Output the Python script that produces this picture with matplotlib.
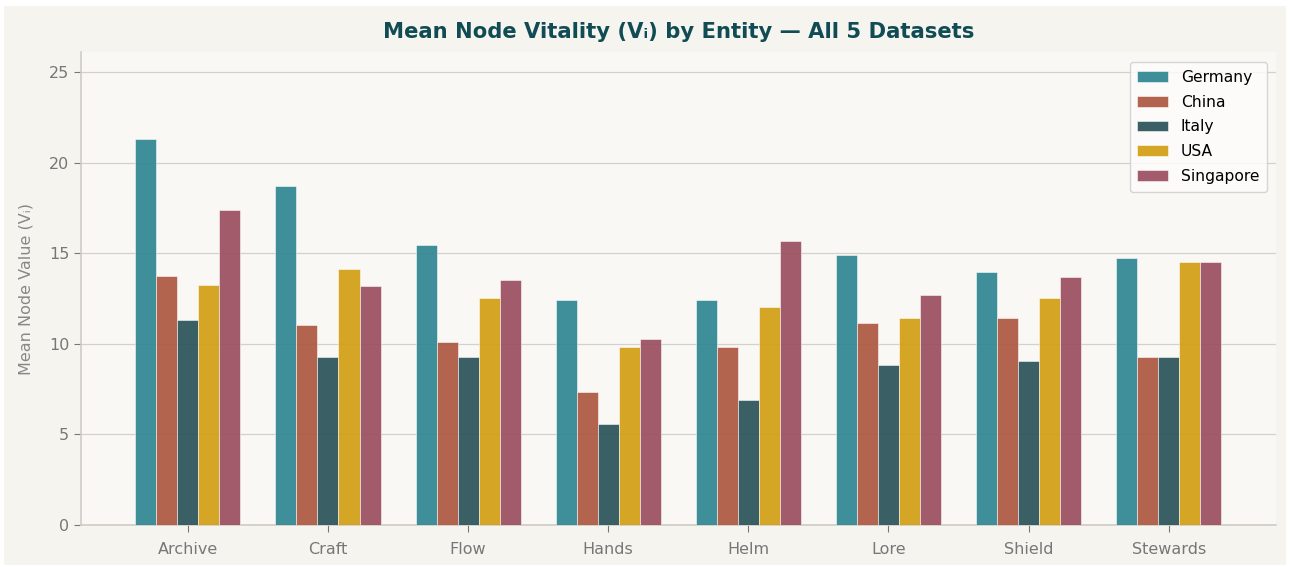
"""
Mean node vitality per entity, grouped bars for five datasets.
"""
import numpy as np
import matplotlib
matplotlib.use("Agg")
from matplotlib import pyplot as plt
from matplotlib.patches import Rectangle

# entities along the x axis
entities = ["Archive", "Craft", "Flow", "Hands", "Helm", "Lore", "Shield", "Stewards"]

# mean node value per dataset
germany = [21.3, 18.7, 15.45, 12.4, 12.4, 14.9, 13.95, 14.75]
china = [13.75, 11.05, 10.1, 7.35, 9.8, 11.15, 11.4, 9.25]
italy = [11.3, 9.3, 9.3, 5.6, 6.9, 8.85, 9.05, 9.25]
usa = [13.25, 14.15, 12.55, 9.85, 12.05, 11.4, 12.55, 14.5]
singapore = [17.4, 13.2, 13.55, 10.25, 15.65, 12.7, 13.7, 14.5]

datasets = ["Germany", "China", "Italy", "USA", "Singapore"]
series = [germany, china, italy, usa, singapore]
colors = ["#2f8693", "#ad5740", "#2a5258", "#d29f14", "#9b4e5f"]

fig = plt.figure(figsize=(12.9, 5.67), dpi=100, facecolor="white")
# beige card behind the chart
fig.patches.append(Rectangle((0.003, 0.004), 0.994, 0.985, transform=fig.transFigure,
                             facecolor="#f6f4ef", edgecolor="none", zorder=-10))
ax = fig.add_axes([0.0628, 0.074, 0.926, 0.834])
ax.set_facecolor("#f9f8f5")

x = np.arange(len(entities))
width = 0.15
for i, (name, vals, col) in enumerate(zip(datasets, series, colors)):
    ax.bar(x + (i - 2) * width, vals, width, label=name, color=col, alpha=0.92,
           edgecolor="white", linewidth=0.4, zorder=3)

ax.set_xticks(x)
ax.set_xticklabels(entities)
ax.set_ylim(0, 26.1)
ax.set_yticks([0, 5, 10, 15, 20, 25])
ax.grid(axis="y", color="#d4d1cb", linewidth=0.9, zorder=0)
ax.set_axisbelow(True)

for s in ["top", "right"]:
    ax.spines[s].set_visible(False)
for s in ["left", "bottom"]:
    ax.spines[s].set_color("#cfccc6")
    ax.spines[s].set_linewidth(1.2)
ax.tick_params(colors="#777777", labelsize=11.5, length=5)
ax.tick_params(axis="x", pad=7)

ax.set_ylabel("Mean Node Value (Vᵢ)", color="#888888", fontsize=11.5, labelpad=11)
ax.set_title("Mean Node Vitality (Vᵢ) by Entity — All 5 Datasets",
             color="#114c55", fontsize=15.2, fontweight="bold", pad=10)

leg = ax.legend(loc="upper right", fontsize=11.2, frameon=True, fancybox=True,
                handlelength=2.0, borderpad=0.5, labelspacing=0.63,
                borderaxespad=0, bbox_to_anchor=(0.993, 0.979))
leg.get_frame().set_facecolor("#fdfdfc")
leg.get_frame().set_edgecolor("#cccccc")

fig.savefig("out.png", dpi=100, facecolor=fig.get_facecolor())
